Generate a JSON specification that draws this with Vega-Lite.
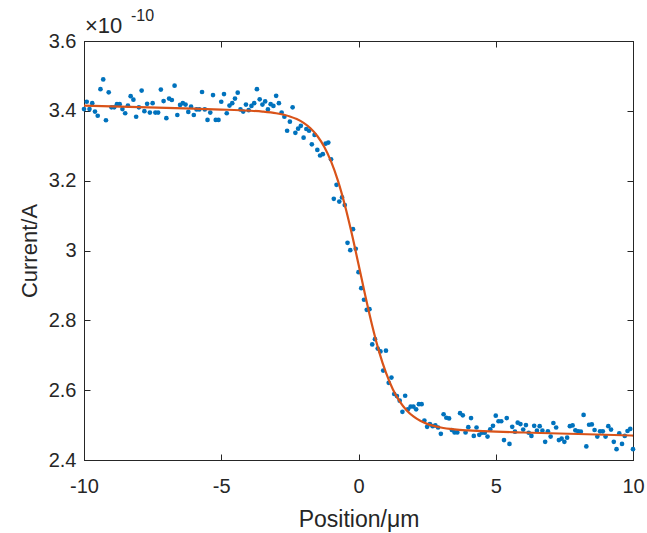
{
  "$schema": "https://vega.github.io/schema/vega-lite/v6.json",
  "autosize": {"type": "none"},
  "padding": {"left": 84, "top": 41, "right": 14, "bottom": 73},
  "width": 549,
  "height": 419,
  "background": "white",
  "config": {
    "font": "Liberation Sans",
    "view": {"stroke": "#262626", "strokeWidth": 1},
    "axis": {
      "grid": false,
      "domainColor": "#262626",
      "tickColor": "#262626",
      "labelColor": "#262626",
      "titleColor": "#262626",
      "labelFont": "Liberation Sans",
      "titleFont": "Liberation Sans",
      "labelFontSize": 20,
      "titleFontSize": 22,
      "titleFontWeight": "normal",
      "tickSize": -6,
      "domainWidth": 1,
      "labelFlush": false,
      "labelOverlap": false
    }
  },
  "datasets": {
    "pts": [
      {"x": -10.0, "y": 3.405}, {"x": -9.9, "y": 3.426}, {"x": -9.8, "y": 3.405}, {"x": -9.7, "y": 3.422}, {"x": -9.6, "y": 3.398},
      {"x": -9.5, "y": 3.386}, {"x": -9.4, "y": 3.462}, {"x": -9.3, "y": 3.490}, {"x": -9.2, "y": 3.373}, {"x": -9.1, "y": 3.453},
      {"x": -9.0, "y": 3.410}, {"x": -8.9, "y": 3.410}, {"x": -8.8, "y": 3.419}, {"x": -8.7, "y": 3.419}, {"x": -8.6, "y": 3.405},
      {"x": -8.5, "y": 3.393}, {"x": -8.4, "y": 3.415}, {"x": -8.3, "y": 3.442}, {"x": -8.2, "y": 3.432}, {"x": -8.1, "y": 3.383},
      {"x": -8.0, "y": 3.410}, {"x": -7.9, "y": 3.458}, {"x": -7.8, "y": 3.399}, {"x": -7.7, "y": 3.420}, {"x": -7.6, "y": 3.395},
      {"x": -7.5, "y": 3.422}, {"x": -7.4, "y": 3.395}, {"x": -7.3, "y": 3.395}, {"x": -7.2, "y": 3.461}, {"x": -7.1, "y": 3.428},
      {"x": -7.0, "y": 3.379}, {"x": -6.9, "y": 3.435}, {"x": -6.8, "y": 3.431}, {"x": -6.7, "y": 3.472}, {"x": -6.6, "y": 3.388},
      {"x": -6.5, "y": 3.417}, {"x": -6.4, "y": 3.422}, {"x": -6.3, "y": 3.418}, {"x": -6.2, "y": 3.397}, {"x": -6.1, "y": 3.412},
      {"x": -6.0, "y": 3.388}, {"x": -5.9, "y": 3.404}, {"x": -5.8, "y": 3.404}, {"x": -5.7, "y": 3.454}, {"x": -5.6, "y": 3.404},
      {"x": -5.5, "y": 3.374}, {"x": -5.4, "y": 3.395}, {"x": -5.3, "y": 3.445}, {"x": -5.2, "y": 3.374}, {"x": -5.1, "y": 3.374},
      {"x": -5.0, "y": 3.426}, {"x": -4.9, "y": 3.448}, {"x": -4.8, "y": 3.393}, {"x": -4.7, "y": 3.415}, {"x": -4.6, "y": 3.422},
      {"x": -4.5, "y": 3.435}, {"x": -4.4, "y": 3.452}, {"x": -4.3, "y": 3.404}, {"x": -4.2, "y": 3.398}, {"x": -4.1, "y": 3.418},
      {"x": -4.0, "y": 3.402}, {"x": -3.9, "y": 3.414}, {"x": -3.8, "y": 3.422}, {"x": -3.7, "y": 3.462}, {"x": -3.6, "y": 3.433},
      {"x": -3.5, "y": 3.418}, {"x": -3.4, "y": 3.427}, {"x": -3.3, "y": 3.404}, {"x": -3.2, "y": 3.419}, {"x": -3.1, "y": 3.414},
      {"x": -3.0, "y": 3.443}, {"x": -2.9, "y": 3.422}, {"x": -2.8, "y": 3.395}, {"x": -2.7, "y": 3.383}, {"x": -2.6, "y": 3.343},
      {"x": -2.5, "y": 3.369}, {"x": -2.4, "y": 3.410}, {"x": -2.3, "y": 3.337}, {"x": -2.2, "y": 3.349}, {"x": -2.1, "y": 3.357},
      {"x": -2.0, "y": 3.323}, {"x": -1.9, "y": 3.348}, {"x": -1.8, "y": 3.343}, {"x": -1.7, "y": 3.304}, {"x": -1.6, "y": 3.331},
      {"x": -1.5, "y": 3.288}, {"x": -1.4, "y": 3.272}, {"x": -1.3, "y": 3.276}, {"x": -1.2, "y": 3.306}, {"x": -1.1, "y": 3.309},
      {"x": -1.0, "y": 3.261}, {"x": -0.9, "y": 3.148}, {"x": -0.8, "y": 3.188}, {"x": -0.7, "y": 3.140}, {"x": -0.6, "y": 3.152},
      {"x": -0.5, "y": 3.130}, {"x": -0.4, "y": 3.022}, {"x": -0.3, "y": 3.001}, {"x": -0.2, "y": 3.061}, {"x": -0.1, "y": 3.005},
      {"x": 0.0, "y": 2.938}, {"x": 0.1, "y": 2.892}, {"x": 0.2, "y": 2.859}, {"x": 0.3, "y": 2.830}, {"x": 0.4, "y": 2.832},
      {"x": 0.5, "y": 2.731}, {"x": 0.6, "y": 2.746}, {"x": 0.7, "y": 2.719}, {"x": 0.8, "y": 2.711}, {"x": 0.9, "y": 2.656},
      {"x": 1.0, "y": 2.713}, {"x": 1.1, "y": 2.621}, {"x": 1.2, "y": 2.636}, {"x": 1.3, "y": 2.589}, {"x": 1.4, "y": 2.583},
      {"x": 1.5, "y": 2.570}, {"x": 1.6, "y": 2.538}, {"x": 1.7, "y": 2.584}, {"x": 1.8, "y": 2.545}, {"x": 1.9, "y": 2.553},
      {"x": 2.0, "y": 2.553}, {"x": 2.1, "y": 2.545}, {"x": 2.2, "y": 2.560}, {"x": 2.3, "y": 2.560}, {"x": 2.4, "y": 2.513},
      {"x": 2.5, "y": 2.495}, {"x": 2.6, "y": 2.503}, {"x": 2.7, "y": 2.497}, {"x": 2.8, "y": 2.499}, {"x": 2.9, "y": 2.493},
      {"x": 3.0, "y": 2.475}, {"x": 3.1, "y": 2.531}, {"x": 3.2, "y": 2.521}, {"x": 3.3, "y": 2.519}, {"x": 3.4, "y": 2.486},
      {"x": 3.5, "y": 2.479}, {"x": 3.6, "y": 2.479}, {"x": 3.7, "y": 2.534}, {"x": 3.8, "y": 2.528}, {"x": 3.9, "y": 2.479},
      {"x": 4.0, "y": 2.494}, {"x": 4.1, "y": 2.520}, {"x": 4.2, "y": 2.469}, {"x": 4.3, "y": 2.493}, {"x": 4.4, "y": 2.472},
      {"x": 4.5, "y": 2.478}, {"x": 4.6, "y": 2.478}, {"x": 4.7, "y": 2.467}, {"x": 4.8, "y": 2.488}, {"x": 4.9, "y": 2.498},
      {"x": 5.0, "y": 2.527}, {"x": 5.1, "y": 2.511}, {"x": 5.2, "y": 2.511}, {"x": 5.3, "y": 2.457}, {"x": 5.4, "y": 2.520},
      {"x": 5.5, "y": 2.446}, {"x": 5.6, "y": 2.495}, {"x": 5.7, "y": 2.481}, {"x": 5.8, "y": 2.507}, {"x": 5.9, "y": 2.503},
      {"x": 6.0, "y": 2.487}, {"x": 6.1, "y": 2.500}, {"x": 6.2, "y": 2.478}, {"x": 6.3, "y": 2.469}, {"x": 6.4, "y": 2.498},
      {"x": 6.5, "y": 2.484}, {"x": 6.6, "y": 2.497}, {"x": 6.7, "y": 2.484}, {"x": 6.8, "y": 2.452}, {"x": 6.9, "y": 2.482},
      {"x": 7.0, "y": 2.467}, {"x": 7.1, "y": 2.506}, {"x": 7.2, "y": 2.493}, {"x": 7.3, "y": 2.457}, {"x": 7.4, "y": 2.461},
      {"x": 7.5, "y": 2.452}, {"x": 7.6, "y": 2.464}, {"x": 7.7, "y": 2.497}, {"x": 7.8, "y": 2.499}, {"x": 7.9, "y": 2.485},
      {"x": 8.0, "y": 2.482}, {"x": 8.1, "y": 2.481}, {"x": 8.2, "y": 2.529}, {"x": 8.3, "y": 2.439}, {"x": 8.4, "y": 2.501},
      {"x": 8.5, "y": 2.502}, {"x": 8.6, "y": 2.486}, {"x": 8.7, "y": 2.467}, {"x": 8.8, "y": 2.482}, {"x": 8.9, "y": 2.482},
      {"x": 9.0, "y": 2.467}, {"x": 9.1, "y": 2.497}, {"x": 9.2, "y": 2.487}, {"x": 9.3, "y": 2.452}, {"x": 9.4, "y": 2.431},
      {"x": 9.5, "y": 2.476}, {"x": 9.6, "y": 2.446}, {"x": 9.7, "y": 2.469}, {"x": 9.8, "y": 2.483}, {"x": 9.9, "y": 2.489},
      {"x": 10.0, "y": 2.431}
    ],
    "fit": [
      {"x": -10, "y": 3.415}, {"x": -8, "y": 3.4106}, {"x": -6, "y": 3.4062}, {"x": -5, "y": 3.4037},
      {"x": -4, "y": 3.4005}, {"x": -3.5, "y": 3.3978}, {"x": -3, "y": 3.3931}, {"x": -2.5, "y": 3.384},
      {"x": -2.25, "y": 3.3764}, {"x": -2, "y": 3.3655}, {"x": -1.75, "y": 3.35}, {"x": -1.5, "y": 3.328},
      {"x": -1.25, "y": 3.2972}, {"x": -1, "y": 3.2553}, {"x": -0.75, "y": 3.2002}, {"x": -0.5, "y": 3.1312},
      {"x": -0.25, "y": 3.05}, {"x": 0, "y": 2.9607}, {"x": 0.25, "y": 2.8699}, {"x": 0.5, "y": 2.7847},
      {"x": 0.75, "y": 2.7105}, {"x": 1, "y": 2.6499}, {"x": 1.25, "y": 2.6029}, {"x": 1.5, "y": 2.5679},
      {"x": 1.75, "y": 2.5427}, {"x": 2, "y": 2.5248}, {"x": 2.25, "y": 2.5123}, {"x": 2.5, "y": 2.5035},
      {"x": 3, "y": 2.4931}, {"x": 3.5, "y": 2.4877}, {"x": 4, "y": 2.4847}, {"x": 5, "y": 2.4813},
      {"x": 6, "y": 2.4788}, {"x": 8, "y": 2.4744}, {"x": 10, "y": 2.47}
    ],
    "note": [{"base": "×10", "exp": "-10"}]
  },
  "layer": [
    {
      "data": {"name": "pts"},
      "mark": {"type": "point", "filled": true, "size": 22, "opacity": 1, "color": "#0072BD"},
      "encoding": {
        "x": {
          "field": "x", "type": "quantitative",
          "scale": {"domain": [-10, 10], "nice": false, "zero": false},
          "axis": {"orient": "bottom", "values": [-10, -5, 0, 5, 10], "labelExpr": "'' + datum.value", "title": "Position/μm", "titleFontSize": 23, "labelPadding": 22, "titlePadding": 12}
        },
        "y": {
          "field": "y", "type": "quantitative",
          "scale": {"domain": [2.4, 3.6], "nice": false, "zero": false},
          "axis": {"orient": "left", "values": [2.4, 2.6, 2.8, 3, 3.2, 3.4, 3.6], "labelExpr": "'' + datum.value", "title": "Current/A", "labelPadding": 14, "titlePadding": 7}
        }
      }
    },
    {
      "data": {"name": "fit"},
      "mark": {"type": "line", "color": "#D95319", "strokeWidth": 2.2, "interpolate": "monotone"},
      "encoding": {
        "x": {"field": "x", "type": "quantitative", "axis": {"orient": "top", "values": [-10, -5, 0, 5, 10], "labels": false, "title": null}},
        "y": {"field": "y", "type": "quantitative", "axis": {"orient": "right", "values": [2.4, 2.6, 2.8, 3, 3.2, 3.4, 3.6], "labels": false, "title": null}}
      }
    },
    {
      "data": {"name": "note"},
      "mark": {"type": "text", "align": "left", "baseline": "alphabetic", "fontSize": 22, "color": "#262626", "dx": 1, "dy": -8},
      "encoding": {
        "text": {"field": "base"},
        "x": {"datum": -10, "type": "quantitative", "axis": null},
        "y": {"datum": 3.6, "type": "quantitative", "axis": null}
      }
    },
    {
      "data": {"name": "note"},
      "mark": {"type": "text", "align": "left", "baseline": "alphabetic", "fontSize": 16, "color": "#262626", "dx": 47, "dy": -20},
      "encoding": {
        "text": {"field": "exp"},
        "x": {"datum": -10, "type": "quantitative", "axis": null},
        "y": {"datum": 3.6, "type": "quantitative", "axis": null}
      }
    }
  ],
  "resolve": {"axis": {"x": "independent", "y": "independent"}}
}
